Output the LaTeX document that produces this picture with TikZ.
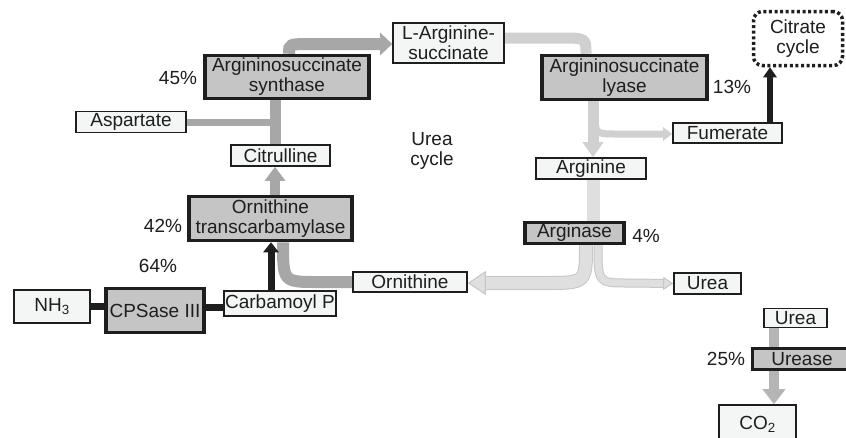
\documentclass[tikz,border=0pt]{standalone}
\usepackage{fontspec}
\setmainfont{Liberation Sans}
\usetikzlibrary{arrows.meta,backgrounds}
\definecolor{dark}{HTML}{1E1E1E}
\definecolor{enzfill}{HTML}{C5C5C5}
\definecolor{subfill}{HTML}{F4F6F6}
\definecolor{grayA}{HTML}{A7A7A7}
\definecolor{grayB}{HTML}{D0D0D0}
\definecolor{grayC}{HTML}{DFDFDF}
\definecolor{grayCo}{HTML}{C6C6C6}
\definecolor{grayD}{HTML}{B5B5B5}
\begin{document}
\begin{tikzpicture}[x=1pt,y=-1pt,
  font=\fontsize{19}{20}\selectfont,
  enz/.style={draw=dark, line width=3.5pt, fill=enzfill, text=dark, inner sep=0pt, align=center},
  sub/.style={draw=dark, line width=1.6pt, fill=subfill, text=dark, inner sep=0pt, align=center},
  lbl/.style={text=dark, inner sep=0pt}]
\useasboundingbox (0,0) rectangle (846,437);
% nodes
\node[enz, minimum width=164pt, minimum height=43pt] (syn) at (287,77) {Argininosuccinate\\synthase};
\node[sub, minimum width=111pt, minimum height=40pt] (larg) at (448.5,43) {L-Arginine-\\succinate};
\node[sub, minimum width=110pt, minimum height=21pt] (asp) at (131,122) {Aspartate};
\node[sub, minimum width=99pt, minimum height=21pt] (cit) at (280.5,155.5) {Citrulline};
\node[enz, minimum width=163pt, minimum height=44pt] (otc) at (270.5,218.5) {Ornithine\\transcarbamylase};
\node[sub, minimum width=76pt, minimum height=33pt] (nh3) at (52,306.5) {NH\textsubscript{3}};
\node[enz, minimum width=98pt, minimum height=44pt] (cps) at (155,310.5) {CPSase III};
\node[sub, minimum width=112pt, minimum height=25pt] (carb) at (280,303.5) {Carbamoyl P};
\node[sub, minimum width=114pt, minimum height=20pt] (orn) at (410,282) {Ornithine};
\node[sub, minimum width=67pt, minimum height=21pt] (urea1) at (707.5,283.5) {Urea};
\node[enz, minimum width=99pt, minimum height=21pt] (agase) at (574.5,233) {Arginase};
\node[sub, minimum width=110pt, minimum height=21pt] (arg) at (591,168.5) {Arginine};
\node[enz, minimum width=165pt, minimum height=44pt] (lyase) at (624.5,77.5) {Argininosuccinate\\lyase};
\node[sub, minimum width=109pt, minimum height=20pt] (fum) at (727.5,133) {Fumerate};
\node[draw=dark, line width=3.5pt, dash pattern=on 3pt off 2.6pt, rounded corners=9pt,
      minimum width=89pt, minimum height=54pt, align=center, inner sep=0pt, text=dark] (tca) at (798,38.5) {Citrate\\cycle};
\node[sub, minimum width=63pt, minimum height=19pt] (urea2) at (795.5,318) {Urea};
\node[enz, minimum width=99pt, minimum height=21pt] (urease) at (802,359) {Urease};
\node[sub, minimum width=77pt, minimum height=39pt] (co2) at (757.5,424.5) {CO\textsubscript{2}};
% labels
\node[lbl] (p45) at (178,78) {45\%};
\node[lbl] (p13) at (732,87) {13\%};
\node[lbl] (p42) at (163,226) {42\%};
\node[lbl] (p64) at (158,266) {64\%};
\node[lbl] (p4) at (646,236) {4\%};
\node[lbl] (p25) at (726,359) {25\%};
\node[lbl, align=center] (uc) at (432,151) {Urea\\cycle};
% connectors
\begin{scope}[on background layer]
\fill[white] (0,0) rectangle (846,437);
\draw[grayA, line width=12pt, -{Triangle[width=22pt,length=12pt]}]
  (syn.north -| 289,0) .. controls (289,44) .. (312,44) -- (larg.west |- 0,44);
\draw[grayA, line width=7pt] (asp.east) -- (275,122);
\draw[grayA, line width=11pt] (cit.north -| 275,0) -- (syn.south -| 275,0);
\draw[grayA, line width=10pt, -{Triangle[width=20pt,length=14pt]}] (otc.north -| 275,0) -- (cit.south -| 275,0);
\draw[grayA, line width=12pt] (orn.west) -- (318,282) .. controls (283,282) .. (otc.south -| 283,0);
\draw[dark, line width=7pt, -{Triangle[width=15pt,length=10pt]}] (carb.north -| 271,0) -- (otc.south -| 271,0);
\draw[dark, line width=7pt] (nh3.east) -- (cps.west |- nh3.east);
\draw[dark, line width=7pt] (cps.east |- 0,307) -- (carb.west |- 0,307);
% lyase side
\draw[grayB, line width=11pt] (larg.east |- 0,38) -- (560,38) .. controls (586,38) .. (lyase.north -| 586,0);
\draw[grayB, line width=11pt, -{Triangle[width=20pt,length=15pt]}] (lyase.south -| 593,0) -- (arg.north -| 593,0);
\draw[grayB, line width=7pt, -{Triangle[width=13pt,length=9pt]}]
  (lyase.south -| 595,0) -- (595,112) .. controls (595,134) .. (617,134) -- (fum.west |- 0,134);
\draw[dark, line width=6pt, -{Triangle[width=13pt,length=10pt]}] (fum.north -| 770,0) -- (tca.south -| 770,0);
% arginase side
\draw[grayC, line width=13pt] (arg.south -| 593,0) -- (agase.north -| 593,0);
\draw[grayCo, line width=9pt, shorten >=9pt] (agase.south -| 598,0) .. controls (598,283) .. (628,283) -- (urea1.west);
\draw[grayC, line width=7pt, -{Triangle[width=13pt,length=10pt,fill=grayC,color=grayCo,line width=1pt]}]
  (agase.south -| 598,0) .. controls (598,283) .. (628,283) -- (urea1.west);
\draw[grayCo, line width=14pt, shorten >=16pt] (agase.south -| 586,0) .. controls (586,283) .. (545,283) -- (orn.east |- 0,283);
\draw[grayC, line width=12pt, -{Triangle[width=24pt,length=18pt,fill=grayC,color=grayCo,line width=1pt]}]
  (agase.south -| 586,0) .. controls (586,283) .. (545,283) -- (orn.east |- 0,283);
% urease
\draw[grayD, line width=10pt, -{Triangle[width=22pt,length=15pt]}] (urea2.south -| 774,0) -- (co2.north -| 774,0);
\end{scope}
\end{tikzpicture}
\end{document}
